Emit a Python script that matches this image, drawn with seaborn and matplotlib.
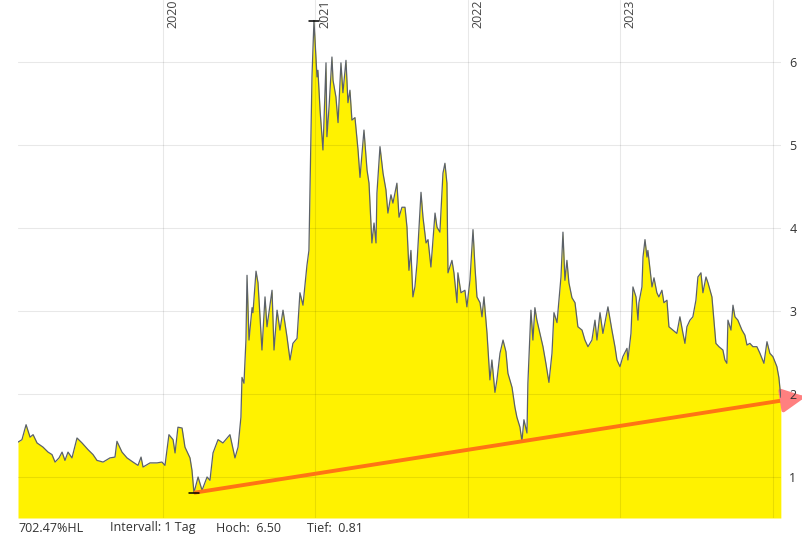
import numpy as np
import pandas as pd
import matplotlib
matplotlib.use("Agg")
import matplotlib.pyplot as plt
import matplotlib.transforms as mtransforms
import seaborn as sns

# time axis in decimal years, price values
years = [
    2019.049, 2019.075, 2019.102, 2019.128, 2019.148, 2019.174, 2019.213, 2019.246, 2019.272, 2019.292,
    2019.318, 2019.338, 2019.357, 2019.377, 2019.403, 2019.436, 2019.469, 2019.508, 2019.541, 2019.567,
    2019.607, 2019.652, 2019.685, 2019.698, 2019.731, 2019.764, 2019.803, 2019.836, 2019.856, 2019.869,
    2019.915, 2019.961, 2019.993, 2020.013, 2020.039, 2020.066, 2020.079, 2020.098, 2020.125, 2020.144,
    2020.177, 2020.190, 2020.203, 2020.230, 2020.256, 2020.289, 2020.308, 2020.328, 2020.361, 2020.393,
    2020.439, 2020.472, 2020.492, 2020.511, 2020.518, 2020.531, 2020.544, 2020.551, 2020.564, 2020.584,
    2020.590, 2020.610, 2020.623, 2020.636, 2020.649, 2020.669, 2020.682, 2020.715, 2020.728, 2020.748,
    2020.767, 2020.787, 2020.813, 2020.833, 2020.852, 2020.879, 2020.898, 2020.918, 2020.944, 2020.957,
    2020.977, 2020.984, 2020.990, 2021.010, 2021.016, 2021.030, 2021.049, 2021.069, 2021.075, 2021.089,
    2021.108, 2021.115, 2021.134, 2021.148, 2021.167, 2021.180, 2021.200, 2021.213, 2021.226, 2021.239,
    2021.259, 2021.279, 2021.292, 2021.318, 2021.338, 2021.351, 2021.370, 2021.384, 2021.397, 2021.403,
    2021.423, 2021.443, 2021.462, 2021.475, 2021.495, 2021.508, 2021.534, 2021.548, 2021.567, 2021.587,
    2021.600, 2021.613, 2021.626, 2021.639, 2021.652, 2021.666, 2021.692, 2021.705, 2021.725, 2021.738,
    2021.757, 2021.784, 2021.797, 2021.816, 2021.836, 2021.849, 2021.862, 2021.869, 2021.895, 2021.908,
    2021.928, 2021.934, 2021.954, 2021.980, 2021.993, 2022.013, 2022.033, 2022.046, 2022.059, 2022.079,
    2022.092, 2022.105, 2022.125, 2022.144, 2022.157, 2022.177, 2022.190, 2022.210, 2022.230, 2022.249,
    2022.262, 2022.289, 2022.308, 2022.321, 2022.341, 2022.354, 2022.367, 2022.387, 2022.393, 2022.413,
    2022.426, 2022.439, 2022.452, 2022.472, 2022.492, 2022.511, 2022.531, 2022.551, 2022.564, 2022.584,
    2022.597, 2022.610, 2022.623, 2022.636, 2022.649, 2022.662, 2022.682, 2022.702, 2022.721, 2022.748,
    2022.767, 2022.787, 2022.813, 2022.833, 2022.846, 2022.866, 2022.885, 2022.905, 2022.918, 2022.944,
    2022.964, 2022.977, 2022.997, 2023.016, 2023.043, 2023.049, 2023.069, 2023.082, 2023.102, 2023.115,
    2023.121, 2023.141, 2023.148, 2023.161, 2023.174, 2023.180, 2023.207, 2023.220, 2023.239, 2023.252,
    2023.272, 2023.285, 2023.305, 2023.318, 2023.344, 2023.370, 2023.390, 2023.410, 2023.423, 2023.436,
    2023.456, 2023.475, 2023.495, 2023.508, 2023.528, 2023.541, 2023.561, 2023.574, 2023.600, 2023.613,
    2023.626, 2023.646, 2023.672, 2023.685, 2023.698, 2023.705, 2023.725, 2023.738, 2023.751, 2023.770,
    2023.797, 2023.816, 2023.830, 2023.849, 2023.869, 2023.895, 2023.915, 2023.941, 2023.961, 2023.980,
    2024.000, 2024.026, 2024.039, 2024.052,
]
prices = [
    1.42, 1.45, 1.63, 1.48, 1.51, 1.41, 1.36, 1.30, 1.27, 1.18,
    1.23, 1.30, 1.20, 1.30, 1.23, 1.47, 1.41, 1.33, 1.27, 1.20,
    1.18, 1.23, 1.24, 1.43, 1.30, 1.23, 1.18, 1.14, 1.24, 1.12,
    1.17, 1.17, 1.18, 1.14, 1.51, 1.45, 1.29, 1.60, 1.59, 1.36,
    1.23, 1.08, 0.81, 1.00, 0.84, 1.00, 0.96, 1.29, 1.45, 1.41,
    1.51, 1.23, 1.36, 1.72, 2.20, 2.13, 2.65, 3.43, 2.65, 3.04,
    2.98, 3.48, 3.34, 2.93, 2.53, 3.17, 2.81, 3.25, 2.53, 3.01,
    2.77, 3.01, 2.69, 2.41, 2.61, 2.67, 3.22, 3.07, 3.55, 3.73,
    5.82, 6.17, 6.50, 5.82, 5.90, 5.42, 4.94, 5.99, 5.10, 5.46,
    6.06, 5.78, 5.58, 5.27, 5.99, 5.63, 6.02, 5.51, 5.66, 5.30,
    5.33, 4.94, 4.61, 5.18, 4.70, 4.54, 3.82, 4.06, 3.82, 4.42,
    4.98, 4.66, 4.46, 4.18, 4.40, 4.30, 4.54, 4.13, 4.25, 4.25,
    4.01, 3.49, 3.73, 3.17, 3.29, 3.58, 4.43, 4.13, 3.82, 3.86,
    3.53, 4.18, 4.01, 3.95, 4.66, 4.78, 4.54, 3.46, 3.61, 3.46,
    3.10, 3.46, 3.22, 3.25, 3.05, 3.37, 3.98, 3.53, 3.17, 3.10,
    2.93, 3.17, 2.73, 2.17, 2.41, 2.02, 2.17, 2.49, 2.65, 2.51,
    2.25, 2.08, 1.84, 1.72, 1.60, 1.43, 1.69, 1.53, 2.13, 3.01,
    2.65, 3.04, 2.89, 2.73, 2.57, 2.37, 2.14, 2.49, 2.98, 2.86,
    3.13, 3.41, 3.95, 3.37, 3.61, 3.34, 3.16, 3.10, 2.81, 2.77,
    2.65, 2.57, 2.65, 2.89, 2.65, 2.98, 2.73, 2.92, 3.05, 2.77,
    2.57, 2.41, 2.33, 2.45, 2.55, 2.41, 2.73, 3.29, 3.17, 2.89,
    3.10, 3.29, 3.65, 3.86, 3.65, 3.73, 3.29, 3.40, 3.22, 3.17,
    3.25, 3.10, 3.13, 2.81, 2.77, 2.73, 2.93, 2.73, 2.61, 2.81,
    2.89, 2.93, 3.13, 3.41, 3.46, 3.22, 3.41, 3.34, 3.17, 2.89,
    2.61, 2.57, 2.53, 2.41, 2.37, 2.89, 2.77, 3.07, 2.93, 2.89,
    2.77, 2.71, 2.59, 2.61, 2.57, 2.57, 2.49, 2.37, 2.63, 2.49,
    2.45, 2.33, 2.20, 1.96,
]
year_ticks = [2020, 2021, 2022, 2023]
price_ticks = [1, 2, 3, 4, 5, 6]
footer = ["702.47%HL", "Intervall: 1 Tag", "Hoch:  6.50", "Tief:  0.81"]

df = pd.DataFrame({"jahr": years, "kurs": prices})

sns.set_style("white")
plt.rcParams['font.family'] = ['Open Sans', 'DejaVu Sans']

fig = plt.figure(figsize=(8.02, 5.35), dpi=100)
ax = fig.add_axes([18 / 802, 17 / 535, 763 / 802, 518 / 535])

y_bottom, y_top = 0.506, 6.747
x_left, x_right = years[0], 2024.053

# yellow area + thin grey price line
ax.fill_between(df["jahr"], df["kurs"], y_bottom, color="#fff200", lw=0, zorder=2)
sns.lineplot(data=df, x="jahr", y="kurs", ax=ax, color="#5b6168", lw=0.9,
             estimator=None, zorder=3)

# support line through the two lows
i1 = int(np.argmin(df["kurs"]))
late = df[df["jahr"] > 2022]
i2 = int(late["kurs"].idxmin())
slope = (prices[i2] - prices[i1]) / (years[i2] - years[i1])
x_end = years[-1] - 0.005
ax.plot([years[i1], x_end], [prices[i1], prices[i1] + slope * (x_end - years[i1])],
        color="#ff7414", lw=2.8, solid_capstyle="butt", zorder=4)
x_tip = 2024.216
ax.annotate("", xy=(x_tip, prices[i1] + slope * (x_tip - years[i1])),
            xytext=(x_end, prices[i1] + slope * (x_end - years[i1])),
            arrowprops=dict(arrowstyle="-|>,head_length=0.9,head_width=0.45",
                            mutation_scale=16, color="#ff8080", lw=2.8,
                            shrinkA=0, shrinkB=0),
            annotation_clip=False, zorder=2.2)

# high / low markers
i_hi = int(np.argmax(df["kurs"]))
for i in (i_hi, i1):
    ax.plot([years[i] - 0.035, years[i] + 0.035], [prices[i], prices[i]],
            color="black", lw=1.1, zorder=5)

ax.set_xlim(x_left, x_right)
ax.set_ylim(y_bottom, y_top)
ax.set_xticks(year_ticks + [2024])
ax.set_xticklabels([])
ax.set_yticks(price_ticks)
ax.yaxis.tick_right()
ax.tick_params(axis="y", length=0, pad=6, labelsize=9, labelcolor="#333333")
ax.tick_params(axis="x", length=0)
# translucent grid so it shows faintly on white and on the yellow area
ax.grid(True, color="black", alpha=0.09, lw=0.8)
ax.set_axisbelow(False)
ax.set_xlabel("")
ax.set_ylabel("")
for s in ax.spines.values():
    s.set_visible(False)

trans = mtransforms.blended_transform_factory(ax.transData, ax.transAxes)
for yr in year_ticks:
    ax.text(yr + 0.02, 1.0, str(yr), transform=trans, rotation=90, ha="left",
            va="top", fontsize=9, color="#444444", zorder=6)

for x_px, txt in zip([18, 110, 216, 307], footer):
    fig.text(x_px / 802, 7 / 535, txt, ha="left", va="center", fontsize=9, color="#333333")

fig.savefig("out.png", dpi=100)
